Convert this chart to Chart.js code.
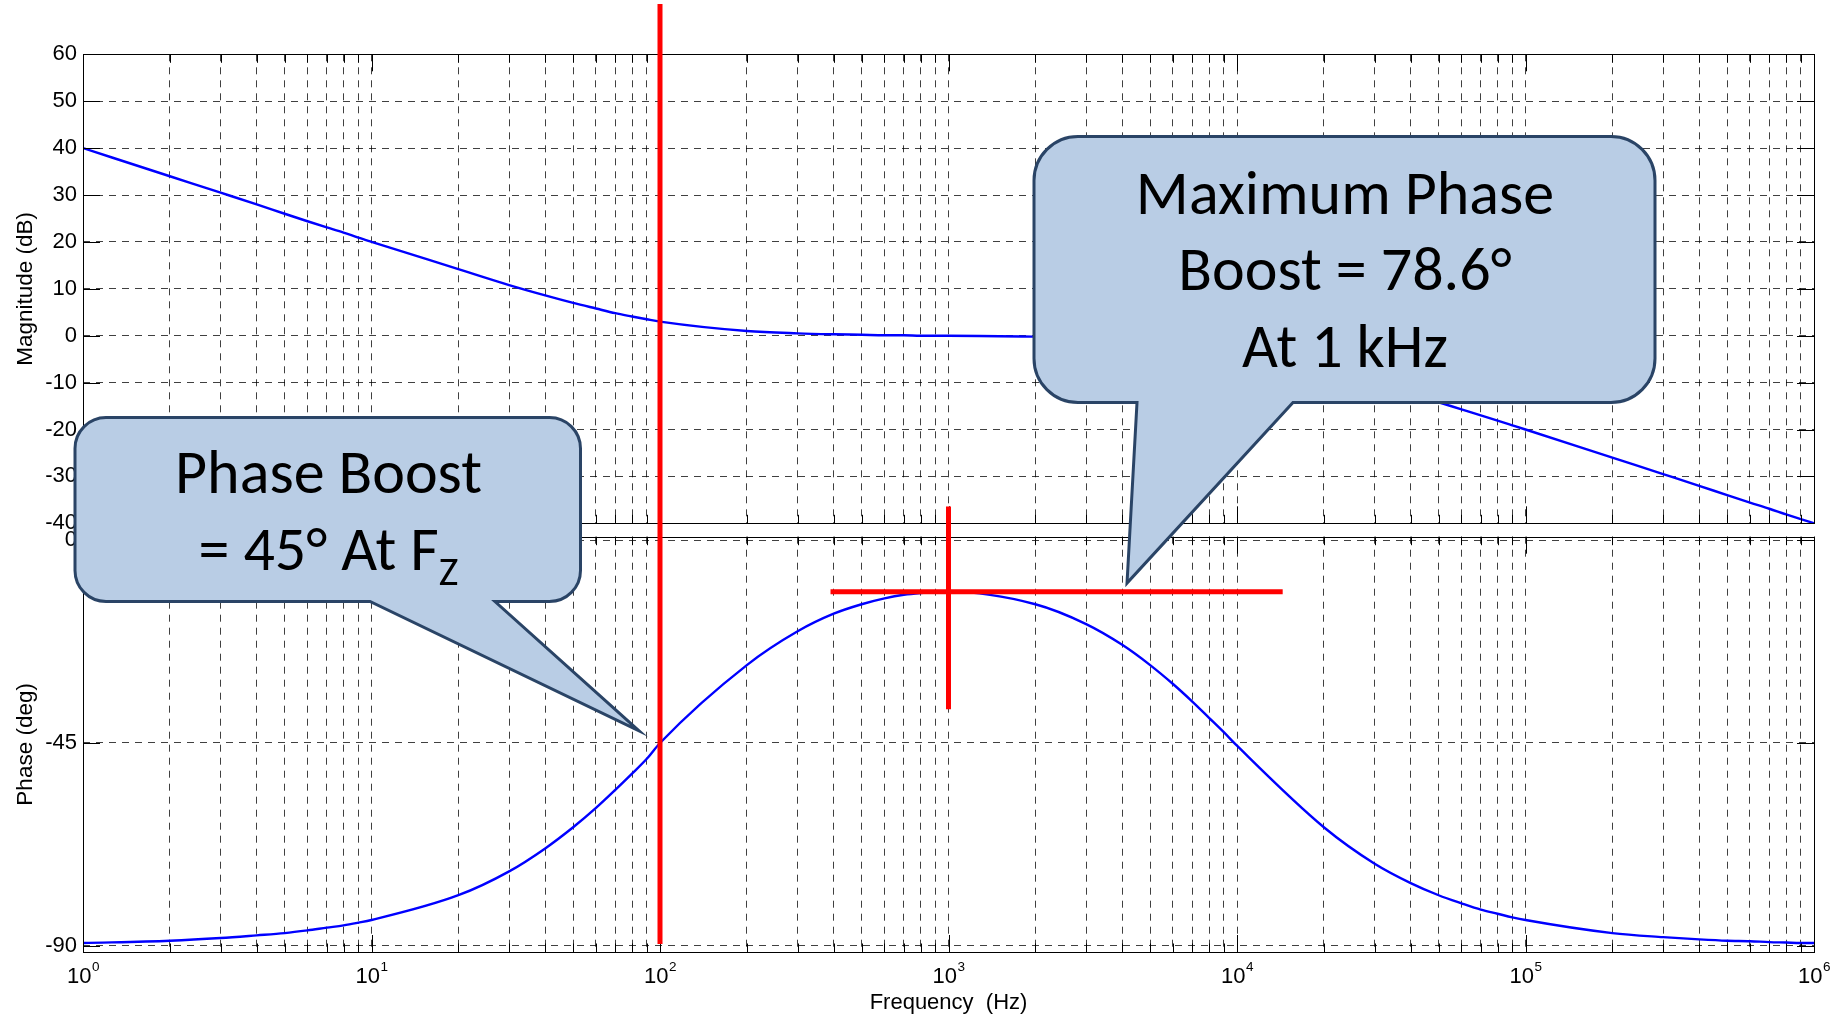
<!DOCTYPE html>
<html>
<head>
<meta charset="utf-8">
<title>Bode plot – lead compensator phase boost</title>
<script src="https://cdn.jsdelivr.net/npm/chart.js@4.4.1/dist/chart.umd.min.js"></script>
<style>
  html, body { margin: 0; padding: 0; background: #fff; overflow: hidden; }
  #stage { position: relative; width: 1837px; height: 1018px; }
  #stage canvas { position: absolute; left: 0; top: 0; }
</style>
</head>
<body>
<div id="stage">
  <canvas id="magCanvas" width="1837" height="1018"></canvas>
  <canvas id="phaseCanvas" width="1837" height="1018"></canvas>
</div>
<script>
// ---- Sweep data -----------------------------------------------------------
const FREQ_HZ = [
  1, 2, 3, 4, 5, 6, 7, 8, 9,
  10, 20, 30, 40, 50, 60, 70, 80, 90,
  100, 200, 300, 400, 500, 600, 700, 800, 900,
  1000, 2000, 3000, 4000, 5000, 6000, 7000, 8000, 9000,
  10000, 20000, 30000, 40000, 50000, 60000, 70000, 80000, 90000,
  100000, 200000, 300000, 400000, 500000, 600000, 700000, 800000, 900000,
  1000000
];

const MAG_DB = [
  40.0, 34.0, 30.5, 28.0, 26.0, 24.4, 23.1, 22.0, 20.9,
  20.0, 14.2, 10.8, 8.6, 7.0, 5.8, 4.8, 4.1, 3.5,
  3.0, 1.0, 0.5, 0.3, 0.2, 0.1, 0.1, 0.0, 0.0,
  0.0, -0.2, -0.4, -0.6, -1.0, -1.3, -1.7, -2.1, -2.6,
  -3.0, -7.0, -10.0, -12.3, -14.2, -15.7, -17.0, -18.1, -19.1,
  -20.0, -26.0, -29.5, -32.0, -34.0, -35.6, -36.9, -38.1, -39.1,
  -40.0
];

const PHASE_DEG = [
  -89.4, -88.9, -88.3, -87.7, -87.2, -86.6, -86.0, -85.5, -84.9,
  -84.3, -78.8, -73.5, -68.4, -63.7, -59.4, -55.4, -51.8, -48.5,
  -45.0, -27.7, -20.2, -16.3, -14.2, -12.9, -12.1, -11.7, -11.5,
  -11.4, -14.2, -18.6, -23.2, -27.7, -31.9, -35.8, -39.4, -42.6,
  -45.6, -63.7, -71.8, -76.1, -78.8, -80.6, -82.0, -82.9, -83.7,
  -84.3, -87.2, -88.1, -88.6, -88.9, -89.0, -89.2, -89.3, -89.4,
  -89.4
];

// ---- Axis ticks -------------------------------------------------------------
const MAG_TICKS = [60, 50, 40, 30, 20, 10, 0, -10, -20, -30, -40];
const PHASE_TICKS = [0, -45, -90];
const DECADE_EXPONENTS = [0, 1, 2, 3, 4, 5, 6];

// ---- Marked points ----------------------------------------------------------
const FZ_HZ = 100;              // zero frequency
const FZ_BOOST_DEG = 45;        // boost at the zero
const PEAK_HZ = 1000;           // frequency of maximum boost
const PEAK_BOOST_DEG = 78.6;    // maximum boost
const PEAK_PHASE_DEG = -90 + PEAK_BOOST_DEG;

// vertical marker at Fz: spans from above the magnitude plot down into the phase plot
const FZ_MARK_TOP_DB = 70.7;
const FZ_MARK_BOTTOM_DEG = -89.6;
// cross-hair at the phase peak
const PEAK_MARK_FROM_HZ = 390;
const PEAK_MARK_TO_HZ = 14400;
const PEAK_MARK_TOP_DEG = 7.5;
const PEAK_MARK_BOTTOM_DEG = -37.5;

// callout pointer tips (in data units)
const FZ_NOTE_TIP = { hz: 84.6, deg: -42.3 };
const PEAK_NOTE_TIP = { hz: 4157, deg: -9.5 };

// ---- Styling ----------------------------------------------------------------
const AXIS_FONT = "'Liberation Sans', Arial, Helvetica, sans-serif";
const NOTE_FONT = "Carlito, Calibri, 'Open Sans', sans-serif";
const NOTE_PX = 62;
const NOTE_SUB_PX = 42;
const GRID_COLOR = 'rgba(0,0,0,0.75)';
const GRID_DASH = [7, 6];
const MAJOR_TICK = 17;
const MINOR_TICK = 8.5;
const CURVE_COLOR = '#0000ff';
const MARK_COLOR = '#ff0000';
const NOTE_FILL = '#b9cde5';
const NOTE_EDGE = '#2a4466';

const PLOT_LEFT = 83, PLOT_RIGHT_PAD = 23;
const MAG_TOP = 54.3, MAG_BOTTOM = 523.3;
const PHASE_TOP = 536.7, PHASE_BOTTOM = 952;
const PAGE_H = 1018;

const isDecade = v => Math.abs(Math.log10(v) - Math.round(Math.log10(v))) < 1e-9;

function freqTicks() {
  const out = [];
  DECADE_EXPONENTS.forEach((k, i) => {
    const base = Math.pow(10, k);
    const steps = i === DECADE_EXPONENTS.length - 1 ? [1] : [1, 2, 3, 4, 5, 6, 7, 8, 9];
    steps.forEach(m => out.push({ value: m * base, major: m === 1 }));
  });
  return out;
}

// Box outline and MATLAB-style inward tick marks
const framePlugin = {
  id: 'bodeFrame',
  afterDatasetsDraw(chart) {
    const { ctx, chartArea: a } = chart;
    const x = chart.scales.x, y = chart.scales.y;
    ctx.save();
    ctx.setLineDash([]);
    ctx.strokeStyle = '#000';
    ctx.lineWidth = 1;
    ctx.beginPath();
    for (const t of x.ticks) {
      const px = Math.round(x.getPixelForValue(t.value)) + 0.5;
      const len = isDecade(t.value) ? MAJOR_TICK : MINOR_TICK;
      ctx.moveTo(px, a.top); ctx.lineTo(px, a.top + len);
      ctx.moveTo(px, a.bottom); ctx.lineTo(px, a.bottom - len);
    }
    for (const t of y.ticks) {
      const py = Math.round(y.getPixelForValue(t.value)) + 0.5;
      ctx.moveTo(a.left, py); ctx.lineTo(a.left + MAJOR_TICK, py);
      ctx.moveTo(a.right, py); ctx.lineTo(a.right - MAJOR_TICK, py);
    }
    ctx.stroke();
    const l = Math.round(a.left) + 0.5, t = Math.round(a.top) + 0.5;
    ctx.strokeRect(l, t, Math.round(a.right) - Math.round(a.left), Math.round(a.bottom) - Math.round(a.top));
    ctx.restore();
  }
};

function freqAxis(showTitle) {
  return {
    type: 'logarithmic',
    min: 1,
    max: 1e6,
    afterBuildTicks: s => { s.ticks = freqTicks(); },
    afterFit: s => { s.height = showTitle ? PAGE_H - PHASE_BOTTOM : 0; },
    grid: { color: GRID_COLOR, lineWidth: 1, drawTicks: false },
    border: { display: false, dash: GRID_DASH },
    ticks: { display: false, autoSkip: false },
    title: {
      display: showTitle,
      text: 'Frequency  (Hz)',
      color: '#000',
      font: { family: AXIS_FONT, size: 22 },
      padding: { top: 0, bottom: 1.5 }
    }
  };
}

function valueAxis(min, max, tickList, titleText) {
  return {
    type: 'linear',
    position: 'left',
    min, max,
    afterBuildTicks: s => { s.ticks = tickList.map(v => ({ value: v })); },
    afterFit: s => { s.width = PLOT_LEFT; },
    grid: { color: GRID_COLOR, lineWidth: 1, drawTicks: false },
    border: { display: false, dash: GRID_DASH },
    ticks: {
      color: '#000',
      padding: 6,
      font: { family: AXIS_FONT, size: 22 },
      callback: v => String(v)
    },
    title: {
      display: true,
      text: titleText,
      color: '#000',
      font: { family: AXIS_FONT, size: 22.5 },
      padding: { top: 12, bottom: 0 }
    }
  };
}

function curve(values) {
  return {
    data: FREQ_HZ.map((f, i) => ({ x: f, y: values[i] })),
    borderColor: CURVE_COLOR,
    borderWidth: 2.4,
    pointRadius: 0,
    fill: false,
    cubicInterpolationMode: 'monotone',
    borderJoinStyle: 'round'
  };
}

const commonOptions = {
  responsive: false,
  animation: false,
  devicePixelRatio: 1,
  plugins: { legend: { display: false }, tooltip: { enabled: false } }
};

// ---- Magnitude plot ---------------------------------------------------------
const magChart = new Chart(document.getElementById('magCanvas'), {
  type: 'line',
  data: { datasets: [curve(MAG_DB)] },
  options: Object.assign({}, commonOptions, {
    layout: { padding: { top: MAG_TOP, bottom: PAGE_H - MAG_BOTTOM, left: 0, right: PLOT_RIGHT_PAD } },
    scales: {
      x: freqAxis(false),
      y: valueAxis(-40, 60, MAG_TICKS, 'Magnitude (dB)')
    }
  }),
  plugins: [framePlugin]
});

// ---- Decade labels 10^k on the frequency axis --------------------------------
const decadeLabelPlugin = {
  id: 'decadeLabels',
  afterDraw(chart) {
    const { ctx, chartArea: a } = chart;
    const x = chart.scales.x;
    ctx.save();
    ctx.fillStyle = '#000';
    ctx.textAlign = 'left';
    ctx.textBaseline = 'alphabetic';
    for (const k of DECADE_EXPONENTS) {
      const px = x.getPixelForValue(Math.pow(10, k));
      ctx.font = `22px ${AXIS_FONT}`;
      const wb = ctx.measureText('10').width;
      ctx.font = `13.5px ${AXIS_FONT}`;
      const we = ctx.measureText(String(k)).width;
      const x0 = px - (wb + we) / 2;
      ctx.font = `22px ${AXIS_FONT}`;
      ctx.fillText('10', x0, a.bottom + 31);
      ctx.font = `13.5px ${AXIS_FONT}`;
      ctx.fillText(String(k), x0 + wb + 0.5, a.bottom + 19);
    }
    ctx.restore();
  }
};

// ---- Markers and callouts drawn over both plots --------------------------------
function drawCallout(ctx, box, tail, tip) {
  const { l, t, r, b, rad } = box;
  ctx.beginPath();
  ctx.moveTo(l + rad, t);
  ctx.lineTo(r - rad, t);
  ctx.arcTo(r, t, r, t + rad, rad);
  ctx.lineTo(r, b - rad);
  ctx.arcTo(r, b, r - rad, b, rad);
  ctx.lineTo(tail[1], b);
  ctx.lineTo(tip.x, tip.y);
  ctx.lineTo(tail[0], b);
  ctx.lineTo(l + rad, b);
  ctx.arcTo(l, b, l, b - rad, rad);
  ctx.lineTo(l, t + rad);
  ctx.arcTo(l, t, l + rad, t, rad);
  ctx.closePath();
  ctx.fillStyle = NOTE_FILL;
  ctx.fill();
  ctx.lineWidth = 3;
  ctx.strokeStyle = NOTE_EDGE;
  ctx.lineJoin = 'miter';
  ctx.stroke();
}

function noteLine(ctx, text, cx, baseline, maxW) {
  ctx.font = `${NOTE_PX}px ${NOTE_FONT}`;
  ctx.textAlign = 'center';
  ctx.fillText(text, cx, baseline, maxW);
}

const annotationPlugin = {
  id: 'bodeMarks',
  afterDraw(chart) {
    const ctx = chart.ctx;
    const x = chart.scales.x;
    const yPh = chart.scales.y;
    const yMag = magChart.scales.y;

    ctx.save();
    ctx.setLineDash([]);
    ctx.strokeStyle = MARK_COLOR;
    ctx.lineWidth = 5;
    ctx.lineCap = 'butt';

    // line at the zero frequency
    const xf = x.getPixelForValue(FZ_HZ);
    ctx.beginPath();
    ctx.moveTo(xf, yMag.getPixelForValue(FZ_MARK_TOP_DB));
    ctx.lineTo(xf, yPh.getPixelForValue(FZ_MARK_BOTTOM_DEG));
    ctx.stroke();

    // cross-hair at the maximum phase
    const yp = yPh.getPixelForValue(PEAK_PHASE_DEG);
    ctx.beginPath();
    ctx.moveTo(x.getPixelForValue(PEAK_MARK_FROM_HZ), yp);
    ctx.lineTo(x.getPixelForValue(PEAK_MARK_TO_HZ), yp);
    const xp = x.getPixelForValue(PEAK_HZ);
    ctx.moveTo(xp, yPh.getPixelForValue(PEAK_MARK_TOP_DEG));
    ctx.lineTo(xp, yPh.getPixelForValue(PEAK_MARK_BOTTOM_DEG));
    ctx.stroke();

    // callout: boost at Fz
    drawCallout(ctx,
      { l: 75, t: 417.5, r: 580.5, b: 601.5, rad: 31 },
      [370, 495],
      { x: x.getPixelForValue(FZ_NOTE_TIP.hz), y: yPh.getPixelForValue(FZ_NOTE_TIP.deg) });

    ctx.fillStyle = '#000';
    ctx.textBaseline = 'alphabetic';
    noteLine(ctx, 'Phase Boost', 328.5, 493.3, 318);
    {
      const main = `= ${FZ_BOOST_DEG}° At F`, sub = 'Z';
      ctx.font = `${NOTE_PX}px ${NOTE_FONT}`;
      const w1 = ctx.measureText(main).width;
      ctx.font = `${NOTE_SUB_PX}px ${NOTE_FONT}`;
      const w2 = ctx.measureText(sub).width;
      const sx = 328.5 - (w1 + w2) / 2;
      ctx.textAlign = 'left';
      ctx.font = `${NOTE_PX}px ${NOTE_FONT}`;
      ctx.fillText(main, sx, 570);
      ctx.font = `${NOTE_SUB_PX}px ${NOTE_FONT}`;
      ctx.fillText(sub, sx + w1, 585);
    }

    // callout: maximum boost
    drawCallout(ctx,
      { l: 1034, t: 136.5, r: 1655, b: 402.5, rad: 44 },
      [1137, 1293],
      { x: x.getPixelForValue(PEAK_NOTE_TIP.hz), y: yPh.getPixelForValue(PEAK_NOTE_TIP.deg) });

    ctx.fillStyle = '#000';
    noteLine(ctx, 'Maximum Phase', 1345, 214.3, 436);
    noteLine(ctx, `Boost = ${PEAK_BOOST_DEG}°`, 1345, 290, 344);
    noteLine(ctx, `At ${PEAK_HZ / 1000} kHz`, 1345, 367.3, 214);

    ctx.restore();
  }
};

// ---- Phase plot -------------------------------------------------------------
const phaseChart = new Chart(document.getElementById('phaseCanvas'), {
  type: 'line',
  data: { datasets: [curve(PHASE_DEG)] },
  options: Object.assign({}, commonOptions, {
    layout: { padding: { top: PHASE_TOP, bottom: 0, left: 0, right: PLOT_RIGHT_PAD } },
    scales: {
      x: freqAxis(true),
      y: valueAxis(-91.4, 0.8, PHASE_TICKS, 'Phase (deg)')
    }
  }),
  plugins: [framePlugin, decadeLabelPlugin, annotationPlugin]
});
</script>
</body>
</html>
